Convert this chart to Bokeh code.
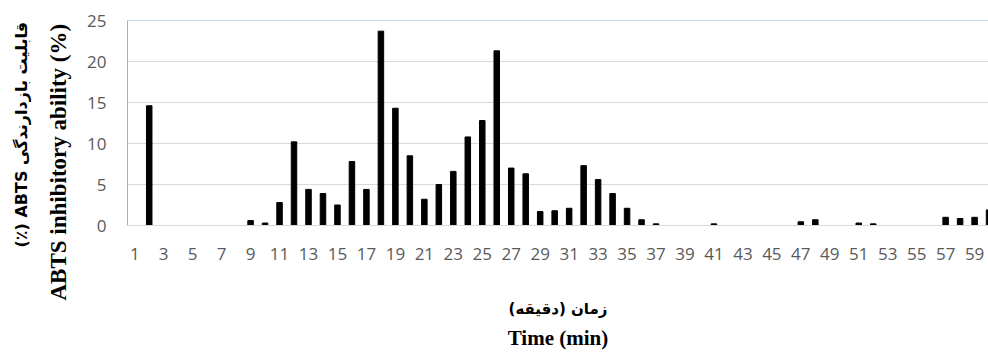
from bokeh.plotting import figure
from bokeh.models import Range1d, FixedTicker, Span, Title, ColumnDataSource
from bokeh.embed import file_html
from bokeh.resources import INLINE

# Elution time (min) and ABTS inhibitory ability (%) per fraction
minutes = list(range(1, 61))
inhibition = [
    0, 14.6, 0, 0, 0, 0, 0, 0, 0.6, 0.3,
    2.8, 10.2, 4.4, 3.9, 2.5, 7.8, 4.4, 23.7, 14.3, 8.5,
    3.2, 5.0, 6.6, 10.8, 12.8, 21.3, 7.0, 6.3, 1.7, 1.8,
    2.1, 7.3, 5.6, 3.9, 2.1, 0.7, 0.2, 0, 0, 0,
    0.2, 0, 0, 0, 0, 0, 0.45, 0.7, 0, 0,
    0.3, 0.2, 0, 0, 0, 0, 1.0, 0.85, 1.0, 1.9,
]
x_ticks = list(range(1, 60, 2))
y_ticks = [0, 5, 10, 15, 20, 25]

src = ColumnDataSource(data=dict(minute=minutes, value=inhibition))

p = figure(
    width=988, height=356,
    output_backend="svg", toolbar_location=None,
    x_range=Range1d(0.5, 59.96), y_range=Range1d(0, 25),
    min_border_left=127, min_border_right=0,
    min_border_top=20, min_border_bottom=131,
    background_fill_color="white", border_fill_color="white",
)
p.outline_line_color = None

p.vbar(x="minute", top="value", width=0.38, source=src,
       fill_color="black", line_color="black")

tick_font = "Open Sans"
tick_color = "#595959"

p.xaxis.ticker = FixedTicker(ticks=x_ticks)
p.xaxis.axis_line_color = "#d9d9d9"
p.xaxis.major_tick_line_color = None
p.xaxis.minor_tick_line_color = None
p.xaxis.major_label_text_font = tick_font
p.xaxis.major_label_text_font_size = "17px"
p.xaxis.major_label_text_color = tick_color
p.xaxis.major_label_standoff = 16
p.xaxis.axis_label = "زمان (دقیقه)"
p.xaxis.axis_label_text_font = "DejaVu Sans"
p.xaxis.axis_label_text_font_style = "bold"
p.xaxis.axis_label_text_font_size = "15px"
p.xaxis.axis_label_text_color = "black"
p.xaxis.axis_label_standoff = 37

p.yaxis.ticker = FixedTicker(ticks=y_ticks)
p.yaxis.axis_line_color = "#8db4e2"
p.yaxis.major_tick_line_color = None
p.yaxis.minor_tick_line_color = None
p.yaxis.major_label_text_font = tick_font
p.yaxis.major_label_text_font_size = "17px"
p.yaxis.major_label_text_color = tick_color
p.yaxis.major_label_standoff = 15

p.xgrid.grid_line_color = None
p.ygrid.ticker = FixedTicker(ticks=[5, 10, 15, 20])
p.ygrid.grid_line_color = "#d9d9d9"
p.ygrid.grid_line_width = 1

p.add_layout(Span(location=25, dimension="width", line_color="#8db4e2", line_width=1))

# Vertical titles on the left: English next to the axis, Persian outside it
p.add_layout(Title(text="ABTS inhibitory ability (%)", align="left", offset=-75,
                   standoff=27, text_font="Liberation Serif", text_font_style="bold",
                   text_font_size="23px", text_color="black"), "left")
p.add_layout(Title(text="(٪) ABTS  قابلیت بازدارندگی", align="left", offset=-22,
                   standoff=0, text_font="DejaVu Sans", text_font_style="bold",
                   text_font_size="16px", text_color="black"), "left")

# English time title under the Persian one
p.add_layout(Title(text="Time (min)", align="center", standoff=10,
                   vertical_align="top",
                   text_font="Liberation Serif", text_font_style="bold",
                   text_font_size="21px", text_color="black"), "below")

open("out.html", "w").write(file_html(p, INLINE))
